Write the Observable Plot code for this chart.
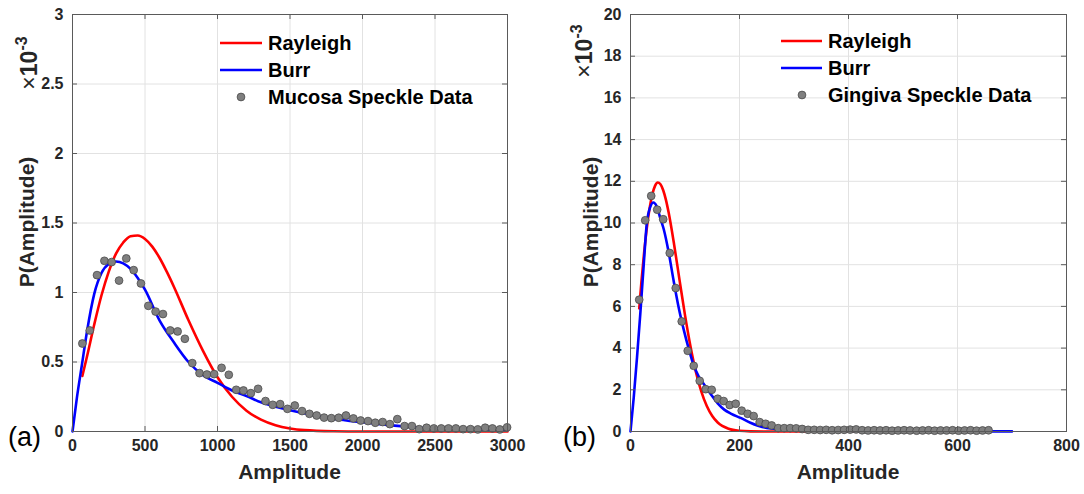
<!DOCTYPE html>
<html><head><meta charset="utf-8">
<script src="https://cdn.jsdelivr.net/npm/d3@7"></script>
<script src="https://cdn.jsdelivr.net/npm/@observablehq/plot@0.6"></script>
<style>
body{margin:0;background:#fff;font-family:"Liberation Sans",Arial,sans-serif;}
#wrap{position:relative;width:1084px;height:494px;display:flex;overflow:hidden;}
.panel{position:relative;height:494px;}
.lab{position:absolute;color:#262626;white-space:nowrap;line-height:1;}
.rot{transform:translate(-50%,-50%) rotate(-90deg);}
.ctr{transform:translate(-50%,-50%);}
.leg{position:absolute;font-weight:bold;font-size:20px;color:#000;white-space:nowrap;line-height:1;transform:translateY(-50%);}
</style></head><body><div id="wrap"></div><script>
// ---------- Panel (a): Mucosa ----------
const mucosaAmplitude = [68,119,169,220,270,321,371,422,472,523,573,624,674,725,775,826,876,927,977,1028,1078,1129,1179,1230,1280,1331,1381,1432,1482,1533,1583,1634,1684,1735,1785,1836,1886,1937,1987,2038,2088,2139,2189,2240,2290,2341,2391,2442,2492,2543,2593,2644,2694,2745,2795,2846,2896,2947,2997];
const mucosaDensity = [0.633,0.727,1.125,1.228,1.219,1.086,1.245,1.161,1.065,0.904,0.863,0.845,0.727,0.72,0.667,0.492,0.42,0.41,0.413,0.458,0.408,0.30,0.295,0.276,0.307,0.219,0.192,0.197,0.163,0.187,0.147,0.127,0.115,0.10,0.096,0.099,0.115,0.094,0.079,0.075,0.063,0.068,0.053,0.089,0.039,0.039,0.017,0.027,0.022,0.022,0.022,0.022,0.017,0.017,0.015,0.027,0.022,0.015,0.03];
const mucosaRayleighX = [68,100,150,200,250,300,350,400,450,500,550,600,650,700,800,900,1000,1100,1200,1300,1400,1500,1600,1800,2000,2500,3000];
const mucosaRayleighY = [0.40,0.54,0.77,0.98,1.15,1.28,1.36,1.405,1.41,1.385,1.33,1.25,1.15,1.04,0.80,0.58,0.39,0.25,0.15,0.085,0.045,0.022,0.01,0.002,0,0,0];
const mucosaBurrX = [0,30,65,100,150,200,250,300,350,400,450,500,600,700,800,900,1000,1100,1200,1300,1400,1500,1650,1800,2000,2200,2400,2600,2800,3000];
const mucosaBurrY = [0,0.24,0.48,0.72,0.99,1.14,1.205,1.223,1.21,1.17,1.105,1.02,0.80,0.64,0.50,0.405,0.35,0.295,0.255,0.21,0.178,0.153,0.12,0.092,0.066,0.044,0.027,0.02,0.015,0.01];
const mucosaXTicks = [0,500,1000,1500,2000,2500,3000];
const mucosaYTicks = [0,0.5,1,1.5,2,2.5,3];

// ---------- Panel (b): Gingiva ----------
const gingivaAmplitude = [16,27,38,49,60,72,83,94,105,116,127,138,149,160,171,182,193,204,215,226,237,248,259,271,282,293,304,315,326,337,348,359,370,381,392,403,414,425,436,447,458,469,480,491,502,513,525,536,547,558,569,580,591,602,613,624,635,646,657];
const gingivaDensity = [6.32,10.13,11.3,10.64,10.18,8.56,6.88,5.28,3.87,3.15,2.43,2.03,2.0,1.57,1.46,1.27,1.33,1.0,0.85,0.74,0.45,0.37,0.29,0.16,0.16,0.16,0.15,0.12,0.08,0.08,0.07,0.08,0.06,0.07,0.08,0.09,0.1,0.06,0.05,0.06,0.05,0.06,0.04,0.05,0.06,0.05,0.04,0.05,0.06,0.04,0.05,0.05,0.06,0.04,0.05,0.06,0.04,0.05,0.06];
const gingivaRayleighX = [16,20,25,30,35,40,45,50,55,60,65,70,80,90,100,110,120,130,140,150,160,180,200,220,250,300,400,500,655];
const gingivaRayleighY = [5.90,7.17,8.58,9.77,10.70,11.37,11.78,11.94,11.86,11.57,11.11,10.50,8.97,7.26,5.58,4.09,2.86,1.91,1.22,0.74,0.43,0.13,0.033,0.007,0,0,0,0,0];
const gingivaBurrX = [0,6,12,18,24,30,36,42,48,55,61,70,79,88,98,107,116,125,135,147,160,172,185,202,220,250,300,350,400,500,600,700];
const gingivaBurrY = [0,1.65,3.57,5.65,7.9,10.0,10.75,10.98,10.8,10.2,9.7,8.6,7.25,6.0,4.85,3.95,3.17,2.65,2.25,1.8,1.35,1.05,0.85,0.65,0.42,0.17,0.08,0.04,0.025,0.012,0.006,0.004];
const gingivaXTicks = [0,200,400,600,800];
const gingivaYTicks = [0,2,4,6,8,10,12,14,16,18,20];

const seriesNames = ["Rayleigh","Burr"];
const dataNames = ["Mucosa Speckle Data","Gingiva Speckle Data"];
const panelTags = ["(a)","(b)"];
const xTitle = "Amplitude", yTitle = "P(Amplitude)";

const zip = (xs, ys) => xs.map((x, i) => ({x, y: ys[i]}));

function makeChart(o) {
  const plotH = 494 - 14 - 63;
  const plotW = o.width - o.marginLeft - o.marginRight;
  const tickStroke = "#5a5a5a";
  return Plot.plot({
    width: o.width, height: 494,
    marginLeft: o.marginLeft, marginRight: o.marginRight, marginTop: 14, marginBottom: 63,
    x: {domain: o.xDomain, label: null},
    y: {domain: o.yDomain, label: null},
    style: {fontFamily: '"Liberation Sans", Arial, sans-serif', fontSize: "16px", fontWeight: "bold", background: "white", overflow: "visible"},
    marks: [
      Plot.gridX(o.xTicks, {stroke: "#e2e2e2", strokeOpacity: 1}),
      Plot.gridY(o.yTicks, {stroke: "#e2e2e2", strokeOpacity: 1}),
      Plot.line(o.ray, {x: "x", y: "y", stroke: "#ff0000", strokeWidth: 2.6, curve: "monotone-x"}),
      Plot.line(o.burr, {x: "x", y: "y", stroke: "#0000ff", strokeWidth: 2.6, curve: "monotone-x"}),
      Plot.dot(o.pts, {x: "x", y: "y", r: 3.9, fill: "#7f7f7f", stroke: "#4a4a4a", strokeWidth: 0.8}),
      Plot.tickX(o.xTicks, {stroke: tickStroke, insetTop: plotH - 5}),
      Plot.tickX(o.xTicks, {stroke: tickStroke, insetBottom: plotH - 5}),
      Plot.tickY(o.yTicks, {stroke: tickStroke, insetRight: plotW - 5}),
      Plot.tickY(o.yTicks, {stroke: tickStroke, insetLeft: plotW - 5}),
      Plot.frame({stroke: "#5a5a5a", strokeWidth: 1}),
      Plot.axisX(o.xTicks, {anchor: "bottom", tickSize: 0, tickPadding: 8, tickFormat: d => String(d), label: null, color: "#262626"}),
      Plot.axisY(o.yTicks, {anchor: "left", tickSize: 0, tickPadding: 9, tickFormat: d => String(d), label: null, color: "#262626"})
    ]
  });
}

function addLabel(panel, html, cls, left, top, style) {
  const d = document.createElement("div");
  d.className = "lab " + cls;
  d.innerHTML = html;
  d.style.left = left + "px"; d.style.top = top + "px";
  Object.assign(d.style, style || {});
  panel.appendChild(d);
}

function addLegend(panel, L) {
  const colors = ["#ff0000", "#0000ff"];
  seriesNames.forEach((name, i) => {
    const s = document.createElementNS("http://www.w3.org/2000/svg", "svg");
    s.setAttribute("width", L.x2 - L.x1); s.setAttribute("height", 4);
    s.style.position = "absolute"; s.style.left = L.x1 + "px"; s.style.top = (L.ys[i] - 2) + "px";
    s.innerHTML = `<line x1="0" x2="${L.x2 - L.x1}" y1="2" y2="2" stroke="${colors[i]}" stroke-width="2.6"/>`;
    panel.appendChild(s);
    const t = document.createElement("div");
    t.className = "leg"; t.textContent = name;
    t.style.left = L.tx + "px"; t.style.top = L.ys[i] + "px";
    panel.appendChild(t);
  });
  const m = document.createElementNS("http://www.w3.org/2000/svg", "svg");
  m.setAttribute("width", 12); m.setAttribute("height", 12);
  m.style.position = "absolute"; m.style.left = (L.mx - 6) + "px"; m.style.top = (L.ys[2] - 6) + "px";
  m.innerHTML = `<circle cx="6" cy="6" r="3.9" fill="#7f7f7f" stroke="#4a4a4a" stroke-width="0.8"/>`;
  panel.appendChild(m);
  const t = document.createElement("div");
  t.className = "leg"; t.textContent = L.dataName;
  t.style.left = L.tx + "px"; t.style.top = L.ys[2] + "px";
  panel.appendChild(t);
}

const wrap = document.getElementById("wrap");
const cfgs = [
  {width: 540, marginLeft: 72, marginRight: 33, xDomain: [0, 3000], yDomain: [0, 3],
   xTicks: mucosaXTicks, yTicks: mucosaYTicks,
   pts: zip(mucosaAmplitude, mucosaDensity), ray: zip(mucosaRayleighX, mucosaRayleighY), burr: zip(mucosaBurrX, mucosaBurrY),
   tag: {x: 8}, yt: {x: 26}, exp: {x: 27, y: 63},
   leg: {x1: 220, x2: 262, tx: 268, mx: 241, ys: [43, 70, 97], dataName: dataNames[0]}},
  {width: 544, marginLeft: 90, marginRight: 18, xDomain: [0, 800], yDomain: [0, 20],
   xTicks: gingivaXTicks, yTicks: gingivaYTicks,
   pts: zip(gingivaAmplitude, gingivaDensity), ray: zip(gingivaRayleighX, gingivaRayleighY), burr: zip(gingivaBurrX, gingivaBurrY),
   tag: {x: 23}, yt: {x: 50}, exp: {x: 42, y: 51},
   leg: {x1: 241, x2: 282, tx: 288, mx: 262, ys: [41, 68, 95], dataName: dataNames[1]}}
];
cfgs.forEach((c, i) => {
  const p = document.createElement("div");
  p.className = "panel"; p.style.width = c.width + "px";
  p.appendChild(makeChart(c));
  const cx = c.marginLeft + (c.width - c.marginLeft - c.marginRight) / 2;
  addLabel(p, xTitle, "ctr", cx, 471, {fontSize: "21px", fontWeight: "bold"});
  addLabel(p, yTitle, "rot", c.yt.x, 222, {fontSize: "21px", fontWeight: "bold"});
  addLabel(p, '<span style="font-weight:normal">×</span>10<sup style="font-size:16px;vertical-align:10px">-3</sup>', "rot", c.exp.x, c.exp.y, {fontSize: "23px", fontWeight: "bold"});
  addLabel(p, panelTags[i], "", c.tag.x, 424, {fontSize: "27px", fontWeight: "normal", color: "#000"});
  addLegend(p, c.leg);
  wrap.appendChild(p);
});
</script></body></html>
